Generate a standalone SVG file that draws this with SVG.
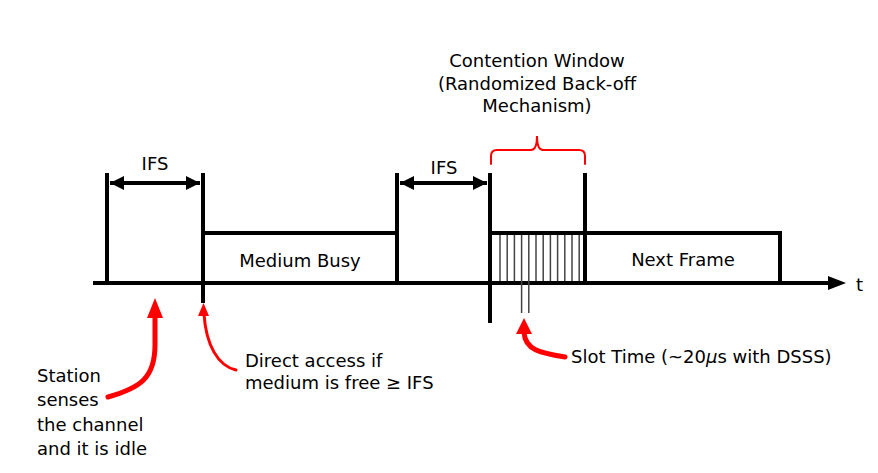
<svg xmlns="http://www.w3.org/2000/svg" width="878" height="473" viewBox="0 0 878 473">
<style>
.k{stroke:#000;stroke-width:4;fill:none;stroke-linecap:butt}
.h{stroke:#444;stroke-width:1.5;fill:none}
.r{stroke:#ff0000;fill:none;stroke-linecap:round}
text{font-family:"DejaVu Sans","Liberation Sans",sans-serif;font-size:18px;fill:#000}
.c{text-anchor:middle}
</style>
<defs>
<marker id="ah" viewBox="0 0 14 14" refX="14" refY="7" markerWidth="14" markerHeight="14" markerUnits="userSpaceOnUse" orient="auto-start-reverse">
<path d="M0,0 L14,7 L0,14 Z" fill="#000"/>
</marker>
</defs>
<rect width="878" height="473" fill="#fff"/>
<g id="timeline">
<line class="k" x1="93" y1="283" x2="830" y2="283"/>
<path d="M828,276 L846,283 L828,290 Z" fill="#000"/>
<text x="856" y="291" font-size="19">t</text>
</g>
<g id="ifs1">
<line class="k" x1="107" y1="173" x2="107" y2="283"/>
<line class="k" x1="203" y1="173" x2="203" y2="303"/>
<line class="k" x1="110" y1="183" x2="200" y2="183" marker-start="url(#ah)" marker-end="url(#ah)"/>
<text class="c" x="155" y="170">IFS</text>
</g>
<g id="medium-busy">
<path class="k" d="M203,233 H397"/>
<line class="k" x1="397" y1="173" x2="397" y2="283"/>
<text class="c" x="300" y="267">Medium Busy</text>
</g>
<g id="ifs2">
<line class="k" x1="490" y1="173" x2="490" y2="323"/>
<line class="k" x1="400" y1="183" x2="487" y2="183" marker-start="url(#ah)" marker-end="url(#ah)"/>
<text class="c" x="444" y="174">IFS</text>
</g>
<g id="contention-window">
<line class="k" x1="490" y1="233" x2="585" y2="233"/>
<line class="k" x1="585" y1="173" x2="585" y2="283"/>
<g class="h">
<line x1="500" y1="235" x2="500" y2="281"/>
<line x1="507.2" y1="235" x2="507.2" y2="281"/>
<line x1="514.4" y1="235" x2="514.4" y2="281"/>
<line x1="521.6" y1="235" x2="521.6" y2="313"/>
<line x1="528.8" y1="235" x2="528.8" y2="313"/>
<line x1="536" y1="235" x2="536" y2="281"/>
<line x1="543.2" y1="235" x2="543.2" y2="281"/>
<line x1="550.4" y1="235" x2="550.4" y2="281"/>
<line x1="557.6" y1="235" x2="557.6" y2="281"/>
<line x1="564.8" y1="235" x2="564.8" y2="281"/>
<line x1="572" y1="235" x2="572" y2="281"/>
<line x1="579.2" y1="235" x2="579.2" y2="281"/>
</g>
<path class="r" stroke-width="2" d="M491,164 V156 Q491,150 497,150 H531 Q537,150 537,136 Q537,150 543,150 H579 Q585,150 585,156 V164"/>
<text class="c" x="537" y="67">Contention Window</text>
<text class="c" x="537" y="90">(Randomized Back-off</text>
<text class="c" x="537" y="112">Mechanism)</text>
</g>
<g id="next-frame">
<path class="k" d="M585,233 H780 V283"/>
<text class="c" x="683" y="266">Next Frame</text>
</g>
<g id="connectors">
<path class="r" stroke-width="5" d="M108,397 C140,388 155,378 155,345 L155,316"/>
<path d="M155,298 L163,318 L147,318 Z" fill="#ff0000"/>
<path class="r" stroke-width="3" d="M236,370 C218,366 206,345 204,314"/>
<path d="M203.5,303 L209,316 L198,316 Z" fill="#ff0000"/>
<path class="r" stroke-width="5" d="M565,357 C540,353 525,350 524,332"/>
<path d="M524,318 L532,334 L516,334 Z" fill="#ff0000"/>
</g>
<g id="labels">
<text x="37" y="382">Station</text>
<text x="37" y="406">senses</text>
<text x="37" y="431">the channel</text>
<text x="37" y="455">and it is idle</text>
<text x="245" y="367">Direct access if</text>
<text x="245" y="389">medium is free ≥ IFS</text>
<text x="571" y="363">Slot Time (~20<tspan font-style="italic">μ</tspan>s with DSSS)</text>
</g>
</svg>
